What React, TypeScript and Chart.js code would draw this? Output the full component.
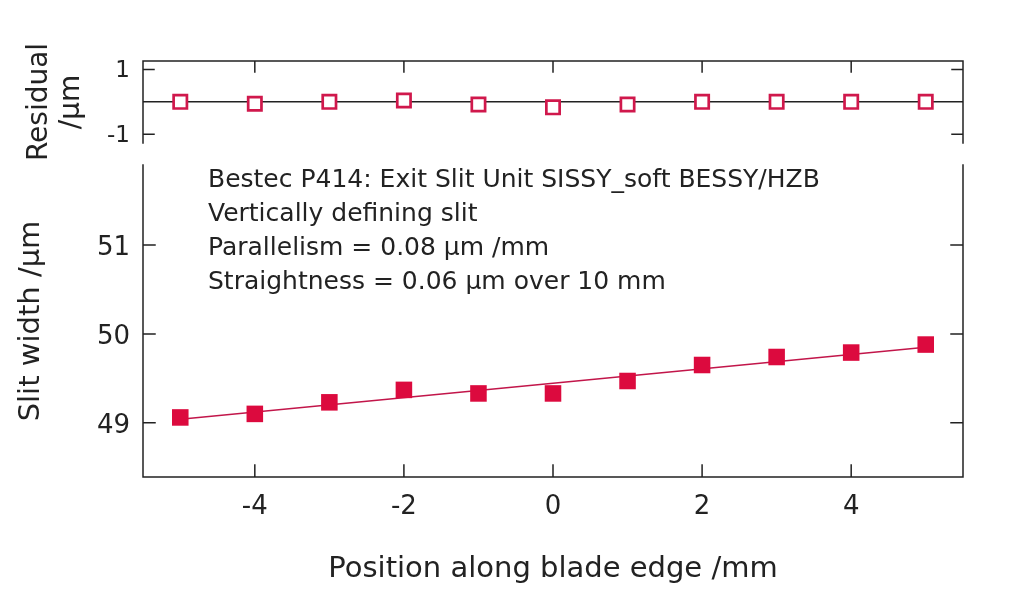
import React, { useEffect, useRef } from "react";
import { Chart, registerables } from "chart.js";

Chart.register(...registerables);

// ---------- data ----------
const POSITIONS = [-5, -4, -3, -2, -1, 0, 1, 2, 3, 4, 5];
const SLIT_WIDTH = [49.06, 49.1, 49.23, 49.37, 49.33, 49.33, 49.47, 49.65, 49.74, 49.79, 49.88];
const RESIDUALS = [0.0, -0.06, 0.0, 0.04, -0.08, -0.17, -0.08, 0.0, 0.0, 0.0, 0.0];
const FIT_X = [-5, 5];
const FIT_Y = [49.04, 49.85];

const X_TICKS = [-4, -2, 0, 2, 4];
const MAIN_Y_TICKS = [49, 50, 51];
const RES_Y_TICKS = [-1, 1];
const X_RANGE = [-5.5, 5.5];
const MAIN_Y_RANGE = [48.39, 51.9];
const RES_Y_RANGE = [-1.27, 1.26];

const ANNOTATION_LINES = [
  "Bestec P414: Exit Slit Unit SISSY_soft BESSY/HZB",
  "Vertically defining slit",
  "Parallelism = 0.08 µm /mm",
  "Straightness = 0.06 µm over 10 mm",
];
const X_TITLE = "Position along blade edge /mm";
const MAIN_Y_TITLE = "Slit width /µm";
const RES_Y_TITLE = ["Residual", "/µm"];

// ---------- style ----------
const W = 1024;
const H = 589;
const FONT = "'DejaVu Sans', 'Liberation Sans', sans-serif";
const INK = "#222222";
const RED = "#dc0a3e";
const RED_LINE = "#c2164a";
const RED_OPEN = "#d0184c";

const framePlugin: any = {
  id: "frame",
  beforeDatasetsDraw(chart: any, _args: any, opts: any) {
    if (!opts.zeroLine) return;
    const { ctx, chartArea: a, scales } = chart;
    const y = scales.y.getPixelForValue(0);
    ctx.save();
    ctx.strokeStyle = INK;
    ctx.lineWidth = 1.5;
    ctx.beginPath();
    ctx.moveTo(a.left, y);
    ctx.lineTo(a.right, y);
    ctx.stroke();
    ctx.restore();
  },
  afterDatasetsDraw(chart: any, _args: any, opts: any) {
    const { ctx, chartArea: a, scales } = chart;
    const L = opts.tickLen || 11;
    ctx.save();
    ctx.strokeStyle = INK;
    ctx.lineWidth = 1.5;
    ctx.lineCap = "square";
    ctx.beginPath();
    ctx.moveTo(a.left, a.top);
    ctx.lineTo(a.left, a.bottom);
    ctx.moveTo(a.right, a.top);
    ctx.lineTo(a.right, a.bottom);
    if (opts.top) {
      ctx.moveTo(a.left, a.top);
      ctx.lineTo(a.right, a.top);
    }
    if (opts.bottom) {
      ctx.moveTo(a.left, a.bottom);
      ctx.lineTo(a.right, a.bottom);
    }
    for (const v of opts.yTicks || []) {
      const y = scales.y.getPixelForValue(v);
      ctx.moveTo(a.left, y);
      ctx.lineTo(a.left + L, y);
      ctx.moveTo(a.right, y);
      ctx.lineTo(a.right - L, y);
    }
    for (const v of opts.xTicks || []) {
      const x = scales.x.getPixelForValue(v);
      if (opts.top) {
        ctx.moveTo(x, a.top);
        ctx.lineTo(x, a.top + L);
      }
      if (opts.bottom) {
        ctx.moveTo(x, a.bottom);
        ctx.lineTo(x, a.bottom - L);
      }
    }
    ctx.stroke();
    ctx.restore();
  },
};

const annotationPlugin: any = {
  id: "annotationText",
  afterDraw(chart: any, _args: any, opts: any) {
    if (!opts.lines) return;
    const { ctx, chartArea: a } = chart;
    ctx.save();
    ctx.fillStyle = INK;
    ctx.font = `${opts.size}px ${FONT}`;
    ctx.textAlign = "left";
    ctx.textBaseline = "alphabetic";
    opts.lines.forEach((line: string, i: number) => {
      ctx.fillText(line, a.left + opts.dx, a.top + opts.dy + i * opts.spacing);
    });
    ctx.restore();
  },
};

const fixWidth = (w: number) => (axis: any) => {
  axis.width = w;
  axis.paddingTop = 0;
  axis.paddingBottom = 0;
  axis.paddingLeft = 0;
  axis.paddingRight = 0;
};
const fixHeight = (h: number) => (axis: any) => {
  axis.height = h;
  axis.paddingTop = 0;
  axis.paddingBottom = 0;
  axis.paddingLeft = 0;
  axis.paddingRight = 0;
};
const setTicks = (vals: number[]) => (axis: any) => {
  axis.ticks = vals.map((v) => ({ value: v }));
};

const noGrid = { display: false, drawTicks: false, tickLength: 0 };

export default function App() {
  const resRef = useRef<HTMLCanvasElement>(null);
  const mainRef = useRef<HTMLCanvasElement>(null);

  useEffect(() => {
    const resChart = new Chart(resRef.current as HTMLCanvasElement, {
      type: "scatter",
      data: {
        datasets: [
          {
            label: "Residual",
            data: POSITIONS.map((x, i) => ({ x, y: RESIDUALS[i] })),
            pointStyle: "rect",
            pointRadius: 9.4,
            pointBorderWidth: 2.7,
            pointBorderColor: RED_OPEN,
            pointBackgroundColor: "#ffffff",
            showLine: false,
          } as any,
        ],
      },
      options: {
        animation: false,
        responsive: false,
        devicePixelRatio: 1,
        events: [],
        layout: { padding: { top: 61, right: 61, bottom: 446, left: 0 } },
        plugins: {
          legend: { display: false },
          tooltip: { enabled: false },
          frame: { top: true, bottom: false, xTicks: X_TICKS, yTicks: RES_Y_TICKS, tickLen: 11, zeroLine: true },
        } as any,
        scales: {
          x: {
            type: "linear",
            display: false,
            min: X_RANGE[0],
            max: X_RANGE[1],
            afterBuildTicks: setTicks(X_TICKS),
          },
          y: {
            type: "linear",
            min: RES_Y_RANGE[0],
            max: RES_Y_RANGE[1],
            afterBuildTicks: setTicks(RES_Y_TICKS),
            afterFit: fixWidth(143),
            grid: noGrid,
            border: { display: false },
            ticks: {
              color: INK,
              font: { family: FONT, size: 23 },
              padding: 13,
              labelOffset: 2,
              callback: (v: any) => String(v),
            },
            title: {
              display: true,
              text: RES_Y_TITLE,
              color: INK,
              font: { family: FONT, size: 28, lineHeight: "32px" },
              padding: { top: 24, bottom: 0 },
            },
          },
        },
      } as any,
      plugins: [framePlugin],
    });

    const mainChart = new Chart(mainRef.current as HTMLCanvasElement, {
      type: "scatter",
      data: {
        datasets: [
          {
            label: "Slit width",
            data: POSITIONS.map((x, i) => ({ x, y: SLIT_WIDTH[i] })),
            pointStyle: "rect",
            pointRadius: 11.7,
            pointBorderWidth: 0,
            pointBackgroundColor: RED,
            pointBorderColor: RED,
            showLine: false,
          } as any,
          {
            type: "line",
            label: "Linear fit",
            data: FIT_X.map((x, i) => ({ x, y: FIT_Y[i] })),
            borderColor: RED_LINE,
            borderWidth: 1.6,
            pointRadius: 0,
            showLine: true,
            fill: false,
          } as any,
        ],
      },
      options: {
        animation: false,
        responsive: false,
        devicePixelRatio: 1,
        events: [],
        layout: { padding: { top: 165, right: 61, bottom: 0, left: 0 } },
        plugins: {
          legend: { display: false },
          tooltip: { enabled: false },
          frame: { top: false, bottom: true, xTicks: X_TICKS, yTicks: MAIN_Y_TICKS, tickLen: 12 },
          annotationText: { lines: ANNOTATION_LINES, size: 25, dx: 65, dy: 21.7, spacing: 34.2 },
        } as any,
        scales: {
          x: {
            type: "linear",
            min: X_RANGE[0],
            max: X_RANGE[1],
            afterBuildTicks: setTicks(X_TICKS),
            afterFit: fixHeight(112),
            grid: noGrid,
            border: { display: false },
            ticks: {
              color: INK,
              font: { family: FONT, size: 26 },
              padding: 15,
              maxRotation: 0,
              autoSkip: false,
              callback: (v: any) => String(v),
            },
            title: {
              display: true,
              text: X_TITLE,
              color: INK,
              font: { family: FONT, size: 29 },
              padding: { top: 0, bottom: 2 },
            },
          },
          y: {
            type: "linear",
            min: MAIN_Y_RANGE[0],
            max: MAIN_Y_RANGE[1],
            afterBuildTicks: setTicks(MAIN_Y_TICKS),
            afterFit: fixWidth(143),
            grid: noGrid,
            border: { display: false },
            ticks: {
              color: INK,
              font: { family: FONT, size: 26 },
              padding: 13,
              labelOffset: 3,
              callback: (v: any) => String(v),
            },
            title: {
              display: true,
              text: MAIN_Y_TITLE,
              color: INK,
              font: { family: FONT, size: 29 },
              padding: { top: 14, bottom: 0 },
            },
          },
        },
      } as any,
      plugins: [framePlugin, annotationPlugin],
    });

    return () => {
      resChart.destroy();
      mainChart.destroy();
    };
  }, []);

  return (
    <div style={{ position: "fixed", left: 0, top: 0, width: W, height: H, background: "#ffffff" }}>
      <canvas ref={mainRef} width={W} height={H} style={{ position: "absolute", left: 0, top: 0 }} />
      <canvas ref={resRef} width={W} height={H} style={{ position: "absolute", left: 0, top: 0 }} />
    </div>
  );
}
